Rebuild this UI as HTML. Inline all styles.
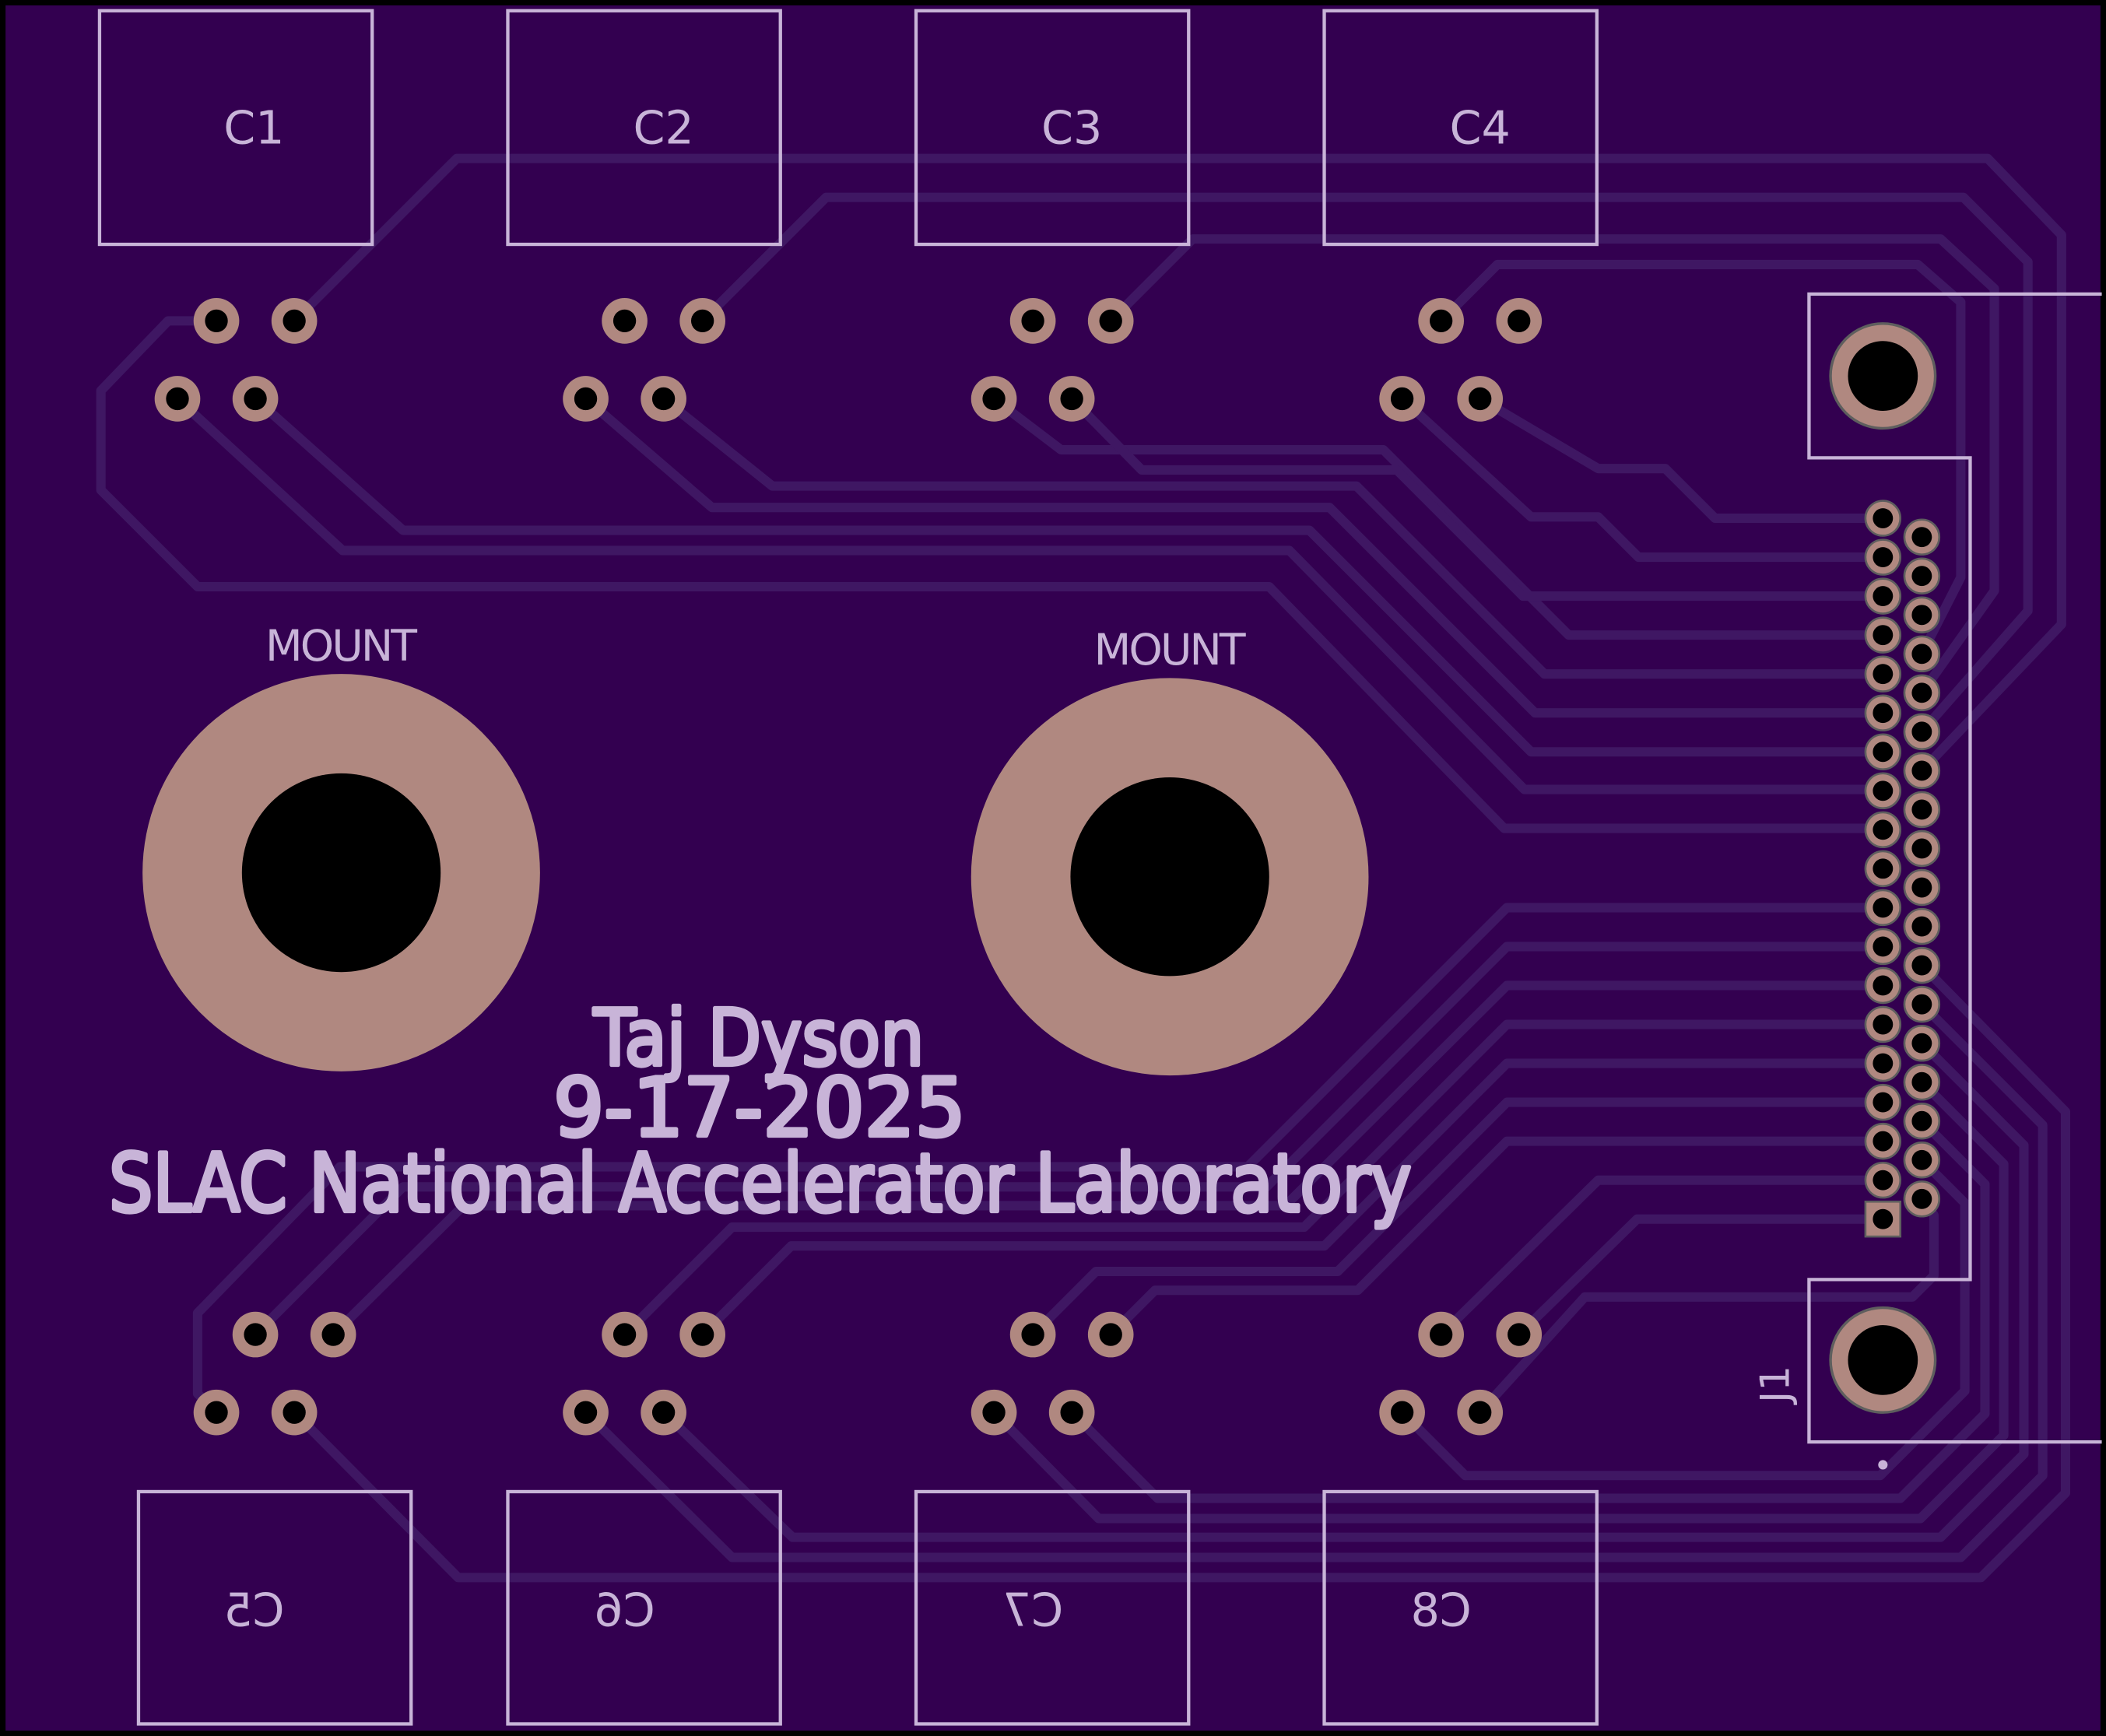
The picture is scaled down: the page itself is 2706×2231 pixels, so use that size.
<!DOCTYPE html>
<html><head><meta charset="utf-8"><style>
html,body{margin:0;padding:0;background:#000;}
svg{display:block;}
</style></head><body>
<svg width="2706" height="2231" viewBox="0 0 1568 1293" xmlns="http://www.w3.org/2000/svg">
<rect x="0" y="0" width="1568" height="1293" fill="#000"/>
<rect x="4" y="4" width="1560" height="1285" fill="#330050"/>

<defs>
<g id="pad">
  <circle r="17" fill="#b08880"/><circle r="8.5" fill="#000"/>
</g>
<g id="pin">
  <circle r="13" fill="#b08880" stroke="#5e5e5e" stroke-width="1.5"/><circle r="7.5" fill="#000"/>
</g>
</defs>

<g fill="none" stroke="#3f1763" stroke-width="7" stroke-linejoin="round">
  <polyline points="161,239 125,239 75,291 75,365 147,437 945,437 1120,617 1402,617"/>
  <polyline points="132,297 255,410 960,410 1135,588 1402,588"/>
  <polyline points="190,297 300,395 975,395 1140,560 1402,560"/>
  <polyline points="436,297 530,378 990,378 1143,531 1402,531"/>
  <polyline points="494,297 575,362 1010,362 1150,502 1402,502"/>
  <polyline points="740,297 790,335 1030,335 1168,473 1402,473"/>
  <polyline points="798,297 850,350 1040,350 1134,444 1402,444"/>
  <polyline points="1044,297 1140,385 1190,385 1220,415 1402,415"/>
  <polyline points="1102,297 1190,349 1240,349 1277,386 1402,386"/>
  <polyline points="219,239 340,118 1480,118 1535,175 1535,465 1431,574"/>
  <polyline points="523,239 615,147 1462,147 1510,195 1510,455 1431,545"/>
  <polyline points="827,239 888,178 1445,178 1485,215 1485,440 1431,516"/>
  <polyline points="1073,239 1115,197 1428,197 1460,225 1460,430 1431,487"/>

  <polyline points="161,1052 147,1038 147,978 253,869 929,869 1122,676 1402,676"/>
  <polyline points="190,994 300,884 943,884 1122,705 1402,705"/>
  <polyline points="248,994 345,898 957,898 1122,734 1402,734"/>
  <polyline points="465,994 545,914 971,914 1122,763 1402,763"/>
  <polyline points="523,994 589,928 986,928 1122,792 1402,792"/>
  <polyline points="769,994 816,947 996,947 1122,821 1402,821"/>
  <polyline points="827,994 860,961 1011,961 1122,850 1402,850"/>
  <polyline points="1073,994 1190,879 1402,879"/>
  <polyline points="1131,994 1219,908 1402,908"/>
  <polyline points="219,1052 341,1175 1475,1175 1538,1112 1538,828 1431,719"/>
  <polyline points="436,1052 545,1160 1460,1160 1521,1099 1521,838 1431,748"/>
  <polyline points="494,1052 590,1145 1445,1145 1507,1083 1507,853 1431,777"/>
  <polyline points="740,1052 818,1131 1430,1131 1492,1069 1492,867 1431,806"/>
  <polyline points="798,1052 862,1116 1415,1116 1478,1053 1478,882 1431,835"/>
  <polyline points="1044,1052 1091,1099 1400,1099 1463,1036 1463,896 1431,864"/>
  <polyline points="1102,1052 1180,966 1424,966 1440,950 1440,905 1431,893"/>
</g>

<g fill="none" stroke="#c8b4d8" stroke-width="2.5">
  <rect x="74" y="8" width="203" height="174"/>
  <rect x="378" y="8" width="203" height="174"/>
  <rect x="682" y="8" width="203" height="174"/>
  <rect x="986" y="8" width="203" height="174"/>
  <rect x="103" y="1111" width="203" height="173"/>
  <rect x="378" y="1111" width="203" height="173"/>
  <rect x="682" y="1111" width="203" height="173"/>
  <rect x="986" y="1111" width="203" height="173"/>
  <polyline points="1565,219 1347,219 1347,341 1467,341 1467,953 1347,953 1347,1074 1565,1074"/>
</g>
<circle cx="1402" cy="1091" r="3.5" fill="#c8b4d8"/>

<g fill="#c8b4d8" font-family="'DejaVu Sans','Liberation Sans',sans-serif" font-size="34" text-anchor="middle">
  <text x="189" y="107">C1</text>
  <text x="494" y="107">C2</text>
  <text x="798" y="107">C3</text>
  <text x="1102" y="107">C4</text>
  <text transform="translate(189,1211) scale(-1,1)">C5</text>
  <text transform="translate(465,1211) scale(-1,1)">C6</text>
  <text transform="translate(769,1211) scale(-1,1)">C7</text>
  <text transform="translate(1073,1211) scale(-1,1)">C8</text>
  <text x="254" y="492" font-size="32" textLength="113">MOUNT</text>
  <text x="871" y="495" font-size="32" textLength="113">MOUNT</text>
  <text transform="translate(1332,1031) rotate(-90)" font-size="30">J1</text>
</g>
<g fill="#c8b4d8" stroke="#c8b4d8" stroke-width="3" stroke-linejoin="round" font-family="'DejaVu Sans','Liberation Sans',sans-serif">
  <text x="442" y="793" font-size="58" textLength="246" lengthAdjust="spacingAndGlyphs">Taj Dyson</text>
  <text x="412" y="846" font-size="60" textLength="307" lengthAdjust="spacingAndGlyphs">9-17-2025</text>
  <text x="81" y="902" font-size="60" textLength="970" lengthAdjust="spacingAndGlyphs">SLAC National Accelerator Laboratory</text>
</g>

<g>
  <use href="#pad" x="161" y="239"/><use href="#pad" x="219" y="239"/><use href="#pad" x="132" y="297"/><use href="#pad" x="190" y="297"/>
  <use href="#pad" x="465" y="239"/><use href="#pad" x="523" y="239"/><use href="#pad" x="436" y="297"/><use href="#pad" x="494" y="297"/>
  <use href="#pad" x="769" y="239"/><use href="#pad" x="827" y="239"/><use href="#pad" x="740" y="297"/><use href="#pad" x="798" y="297"/>
  <use href="#pad" x="1073" y="239"/><use href="#pad" x="1131" y="239"/><use href="#pad" x="1044" y="297"/><use href="#pad" x="1102" y="297"/>
  <use href="#pad" x="190" y="994"/><use href="#pad" x="248" y="994"/><use href="#pad" x="161" y="1052"/><use href="#pad" x="219" y="1052"/>
  <use href="#pad" x="465" y="994"/><use href="#pad" x="523" y="994"/><use href="#pad" x="436" y="1052"/><use href="#pad" x="494" y="1052"/>
  <use href="#pad" x="769" y="994"/><use href="#pad" x="827" y="994"/><use href="#pad" x="740" y="1052"/><use href="#pad" x="798" y="1052"/>
  <use href="#pad" x="1073" y="994"/><use href="#pad" x="1131" y="994"/><use href="#pad" x="1044" y="1052"/><use href="#pad" x="1102" y="1052"/>
</g>

<circle cx="254" cy="650" r="148" fill="#b08880"/><circle cx="254" cy="650" r="74" fill="#000"/>
<circle cx="871" cy="653" r="148" fill="#b08880"/><circle cx="871" cy="653" r="74" fill="#000"/>

<circle cx="1402" cy="280" r="39" fill="#b08880" stroke="#5e5e5e" stroke-width="2"/><circle cx="1402" cy="280" r="26" fill="#000"/>
<circle cx="1402" cy="1013" r="39" fill="#b08880" stroke="#5e5e5e" stroke-width="2"/><circle cx="1402" cy="1013" r="26" fill="#000"/>
<g>
  <use href="#pin" x="1402" y="386"/><use href="#pin" x="1402" y="415"/><use href="#pin" x="1402" y="444"/><use href="#pin" x="1402" y="473"/>
  <use href="#pin" x="1402" y="502"/><use href="#pin" x="1402" y="531"/><use href="#pin" x="1402" y="560"/><use href="#pin" x="1402" y="589"/>
  <use href="#pin" x="1402" y="618"/><use href="#pin" x="1402" y="647"/><use href="#pin" x="1402" y="676"/><use href="#pin" x="1402" y="705"/>
  <use href="#pin" x="1402" y="734"/><use href="#pin" x="1402" y="763"/><use href="#pin" x="1402" y="792"/><use href="#pin" x="1402" y="821"/>
  <use href="#pin" x="1402" y="850"/><use href="#pin" x="1402" y="879"/>
  <rect x="1389" y="895" width="26" height="26" fill="#b08880" stroke="#5e5e5e" stroke-width="1.5"/><circle cx="1402" cy="908" r="7.5" fill="#000"/>
  <use href="#pin" x="1431" y="400"/><use href="#pin" x="1431" y="429"/><use href="#pin" x="1431" y="458"/><use href="#pin" x="1431" y="487"/>
  <use href="#pin" x="1431" y="516"/><use href="#pin" x="1431" y="545"/><use href="#pin" x="1431" y="574"/><use href="#pin" x="1431" y="603"/>
  <use href="#pin" x="1431" y="632"/><use href="#pin" x="1431" y="661"/><use href="#pin" x="1431" y="690"/><use href="#pin" x="1431" y="719"/>
  <use href="#pin" x="1431" y="748"/><use href="#pin" x="1431" y="777"/><use href="#pin" x="1431" y="806"/><use href="#pin" x="1431" y="835"/>
  <use href="#pin" x="1431" y="864"/><use href="#pin" x="1431" y="893"/>
</g>
</svg>
</body></html>
